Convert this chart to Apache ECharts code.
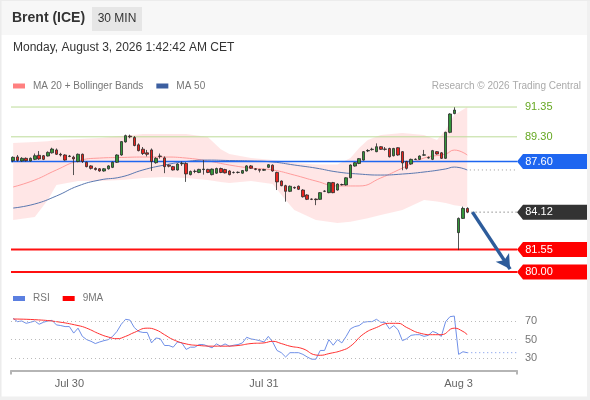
<!DOCTYPE html>
<html><head><meta charset="utf-8">
<script src="https://cdn.jsdelivr.net/npm/echarts@6/dist/echarts.min.js"></script>
<style>html,body{margin:0;padding:0;background:#fff;}#c{width:590px;height:400px;}</style>
</head><body><div id="c"></div>
<script>
const N = 117;
const dayLabels = ['Jul 30', 'Jul 31', 'Aug 3'];
const dayStarts = [13, 58, 103];

const opens = [87.66,87.92,87.64,87.82,87.64,87.75,88.03,88.00,87.98,88.20,
88.40,88.10,88.05,87.95,87.90,87.60,88.10,87.55,87.30,87.13,
87.10,86.95,87.10,87.20,87.55,88.05,88.95,89.35,89.25,88.75,
88.45,88.20,88.40,87.52,87.98,87.85,87.35,87.25,87.02,87.45,
87.47,86.70,86.92,86.85,87.05,87.06,86.70,86.80,87.12,87.05,
86.95,86.85,86.85,86.80,86.95,87.30,87.10,87.05,87.00,87.20,
87.35,86.85,86.26,85.94,85.55,85.82,85.90,85.64,85.30,85.02,
85.02,85.00,85.55,85.46,86.15,85.64,86.00,85.99,86.48,87.29,
87.47,87.70,88.33,88.42,88.28,88.62,88.46,88.50,88.00,88.55,
88.28,87.60,87.43,87.74,87.75,88.04,87.85,87.75,88.28,88.20,
87.82,89.61,90.90,82.71,83.69,84.38];
const closes = [87.89,87.68,87.82,87.66,87.82,88.00,87.78,87.75,88.23,88.46,
88.10,88.05,87.70,87.98,87.78,88.10,87.60,87.25,87.13,87.05,
86.95,87.10,87.30,87.55,88.05,88.97,89.38,89.30,88.70,88.35,
88.15,88.10,87.60,87.82,87.95,87.25,87.28,87.02,87.43,87.48,
86.75,86.92,86.93,87.06,87.08,86.85,87.08,87.12,86.85,86.82,
86.70,86.84,86.86,86.98,87.30,87.14,87.06,87.00,87.05,87.38,
86.95,86.20,85.94,85.55,85.90,85.78,85.69,85.18,85.00,85.00,
84.98,85.46,85.57,86.15,85.46,86.05,86.02,86.48,87.36,87.52,
87.80,88.28,88.36,88.45,88.62,88.44,88.44,87.93,88.50,88.05,
87.50,87.13,87.75,87.76,87.98,88.06,87.87,88.35,88.12,87.82,
89.61,90.87,91.14,83.69,84.38,84.12];
const lows = [87.55,87.60,87.58,87.60,87.60,87.70,87.72,87.70,87.95,88.15,
88.05,87.95,87.65,87.90,86.67,87.55,87.50,87.20,87.05,86.98,
86.90,86.90,87.05,87.15,87.50,88.00,88.90,89.20,88.65,88.30,
88.05,87.95,86.95,87.45,87.80,86.80,87.20,86.98,86.98,87.30,
86.20,86.65,86.80,86.80,86.70,86.80,86.65,86.75,86.80,86.78,
86.65,86.78,86.78,86.76,86.92,87.10,87.00,86.85,86.95,87.15,
86.90,85.64,85.90,84.84,85.50,85.72,85.64,85.12,84.95,84.95,
84.60,84.96,85.50,85.42,85.42,85.60,85.95,85.95,86.45,87.25,
87.42,87.66,88.25,88.35,88.24,88.40,88.35,87.88,87.95,88.00,
87.00,87.05,87.38,87.70,87.70,88.00,87.80,87.70,88.08,87.78,
87.78,89.55,90.85,81.51,83.65,84.05];
const highs = [87.95,88.05,87.90,87.88,87.88,88.15,88.32,88.05,88.30,88.55,
88.50,88.20,88.10,88.05,88.00,88.15,88.15,87.60,87.35,87.20,
87.15,87.15,87.35,87.60,88.10,89.00,89.45,89.45,89.35,88.85,
88.60,88.40,88.50,87.90,88.15,87.95,87.40,87.30,87.48,87.60,
87.55,86.98,87.05,87.10,87.70,87.10,87.12,87.18,87.18,87.10,
87.00,86.92,86.92,87.02,87.35,87.36,87.15,87.10,87.10,87.42,
87.40,86.90,86.30,86.00,85.95,85.88,85.95,85.70,85.35,85.06,
85.06,85.50,85.62,86.20,86.20,86.10,86.08,86.52,87.40,87.56,
87.84,88.32,88.45,88.55,88.85,88.66,88.60,88.55,88.54,88.58,
88.32,87.65,87.80,87.82,88.02,88.40,87.95,88.40,88.32,88.25,
89.65,90.92,91.33,83.75,84.50,84.45];

const bandIdx   = [0,5,8,10,15,20,25,30,35,40,45,48,50,55,60,63,65,70,75,78,80,82,85,90,95,98,100,102,105];
const bandUpper = [88.87,88.94,89.00,89.08,89.15,89.22,89.36,89.49,89.49,89.49,89.29,88.45,88.12,87.84,87.70,87.60,87.50,87.40,87.40,87.84,88.53,89.08,89.43,89.56,89.43,89.08,89.77,90.80,91.35];
const bandLower = [83.58,83.78,84.95,85.99,86.26,86.26,86.33,86.47,86.54,86.47,86.33,86.20,86.12,86.26,86.05,84.95,84.27,83.58,83.37,83.45,83.58,83.70,83.92,84.27,84.95,84.85,84.75,84.60,84.47];

const maIdx = [0,5,10,15,20,25,30,35,40,45,50,55,60,65,70,75,80,85,90,95,100,102,105];
const ma20  = [85.85,86.33,87.02,87.64,87.84,87.88,87.91,87.91,87.84,87.64,87.36,87.15,87.02,86.67,86.26,85.92,85.92,86.47,87.15,87.84,88.12,88.39,88.05];
const ma50  = [84.40,84.68,85.23,85.92,86.33,86.54,87.02,87.36,87.60,87.70,87.67,87.64,87.57,87.36,87.15,86.88,86.74,86.67,86.74,86.88,87.09,87.22,87.02];

const rsi = [72.8,69.3,70,67.5,68.6,70,66.5,68.6,70,70.7,
65.8,65.1,64,64,57,62.3,53.5,50,48.2,45.8,
47.5,48.9,50,53.5,58.8,66.5,71.8,71,63,58.8,
57.7,57.7,46.5,51.8,51,43.7,43.7,41.9,47.5,46.5,
39.5,41.9,41.9,44.7,44.7,43,41.2,45.4,43,45.4,
43,44,44.7,46.5,52.5,50.7,50,48.9,47.5,53.5,
47.5,38.4,36,31.4,36,36,36,34.2,31.4,29,
29,38.4,38.4,50,44,50,46.5,53.5,61.6,64,
65.1,68.6,69.3,69.3,71.8,68.6,68.6,61.6,65.1,60.5,
48.9,51,54.6,55.3,55.3,53.5,54.6,58.8,57,53.5,
69.3,74.6,75.3,34.2,37,36];
const rsiMaIdx = [0,5,10,15,17,20,22,24,26,28,31,33,35,37,40,43,46,49,52,55,58,60,62,64,67,70,71,73,76,78,81,84,87,89,91,94,97,99,102,104,105];
const rsiMa    = [72.1,71.4,69.3,65.1,62.3,56,52.8,51,53.5,57.7,62.3,60.5,55.3,50,45.4,43.7,43,43,43.7,45.8,46.5,48.2,45.8,43,40.2,33.5,33.2,35,38.4,43,56,63,67.5,67.5,63,57,55.3,55.3,62.3,58.8,55.3];

const resistLevels = [91.35, 89.30];
const pivotLevel = 87.60;
const lastPrice = 84.12;
const supportLevels = [81.55, 80.00];
const targetLevel = 80.00;
const rsiLevels = [70, 50, 30];

const cats = Array.from({length: N}, (_, i) => String(i));
const lastIdx = closes.length - 1;
const rightEdge = N - 0.5;
const FONT = 'Liberation Sans, Arial, sans-serif';

const candleData = opens.map((o, i) => [o, closes[i], lows[i], highs[i]]);
const pair = (xs, ys) => xs.map((x, k) => [x, ys[k]]);

const pentagon = 'path://M0,7.5L6,0L70,0L70,15L6,15Z';
function boxPoint(v, color) {
  return {
    coord: [rightEdge, v], symbol: pentagon, symbolSize: [70, 15], symbolOffset: [35, 0],
    itemStyle: { color: color },
    label: { show: true, position: 'inside', offset: [-13, 0], color: '#fff', fontSize: 11, fontFamily: FONT, formatter: v.toFixed(2) }
  };
}
function textPoint(v, color) {
  return {
    coord: [rightEdge, v], symbol: 'circle', symbolSize: 0.01,
    label: { show: true, position: 'right', distance: 8, color: color, fontSize: 11, fontFamily: FONT, formatter: v.toFixed(2) }
  };
}
const greenLine = { color: '#bcdb98', width: 1, type: 'solid', opacity: 1 };
const redLine = { color: '#ff1010', width: 2, type: 'solid', opacity: 1 };

const chart = echarts.init(document.getElementById('c'), null, { renderer: 'canvas' });
chart.setOption({
  animation: false,
  backgroundColor: '#ffffff',
  textStyle: { fontFamily: FONT },
  graphic: [
    { type: 'rect', shape: { x: 0, y: 0, width: 590, height: 35 }, style: { fill: '#f7f7f7' }, z: -10 },
    { type: 'rect', shape: { x: 0, y: 0, width: 1.5, height: 400 }, style: { fill: '#ececec' }, z: 100 },
    { type: 'rect', shape: { x: 587, y: 0, width: 3, height: 400 }, style: { fill: '#f0f0f0' }, z: 100 },
    { type: 'rect', shape: { x: 0, y: 396.5, width: 590, height: 3.5 }, style: { fill: '#f0f0f0' }, z: 100 },
    { type: 'rect', shape: { x: 0, y: 0, width: 590, height: 1 }, style: { fill: '#ececec' }, z: 100 },
    { type: 'text', left: 12, top: 11, style: { text: 'Brent (ICE)', font: 'bold 14px ' + FONT, fill: '#333' } },
    { type: 'rect', shape: { x: 92, y: 7, width: 50, height: 24 }, style: { fill: '#e6e6e6' } },
    { type: 'text', x: 117, y: 19, style: { text: '30 MIN', font: '12px ' + FONT, fill: '#333', align: 'center', verticalAlign: 'middle' } },
    { type: 'text', x: 13, y: 47.5, style: { text: 'Monday, August 3, 2026 1:42:42 AM CET', font: '12px ' + FONT, fill: '#333', verticalAlign: 'middle' } },
    { type: 'text', x: 581, y: 86, style: { text: 'Research \u00a9 2026 Trading Central', font: '10px ' + FONT, fill: '#aaa', align: 'right', verticalAlign: 'middle' } }
  ],
  legend: [
    { left: 13, top: 81, padding: 0, icon: 'rect', itemWidth: 12, itemHeight: 5, itemGap: 13, selectedMode: false,
      textStyle: { fontSize: 10, color: '#777', padding: [0, 0, 0, 3], fontFamily: FONT },
      data: [{ name: 'MA 20 + Bollinger Bands', itemStyle: { color: '#ff8080' } }, { name: 'MA 50', itemStyle: { color: '#3c5fa0' } }] },
    { left: 13, top: 293.5, padding: 0, icon: 'rect', itemWidth: 12, itemHeight: 5, itemGap: 13, selectedMode: false,
      textStyle: { fontSize: 10, color: '#777', padding: [0, 0, 0, 3], fontFamily: FONT },
      data: [{ name: 'RSI', itemStyle: { color: '#5b7fe0' } }, { name: '9MA', itemStyle: { color: '#ff0000' } }] }
  ],
  grid: [
    { left: 11, right: 73, top: 90.3, height: 189 },
    { left: 11, right: 73, top: 307, height: 63.4 }
  ],
  xAxis: [
    { type: 'category', gridIndex: 0, data: cats, boundaryGap: true, show: false },
    { type: 'value', gridIndex: 0, min: -0.5, max: rightEdge, show: false },
    { type: 'category', gridIndex: 1, data: cats, boundaryGap: true,
      axisLine: { lineStyle: { color: '#b5b5b5', width: 2 } },
      axisTick: { show: true, length: 4, interval: (i) => i === 0, lineStyle: { color: '#b5b5b5', width: 2 } },
      axisLabel: { color: '#666', fontSize: 11, fontFamily: FONT, margin: 8,
        interval: (i) => dayStarts.indexOf(i) >= 0,
        formatter: (v, i) => { const k = dayStarts.indexOf(Number(v)); return k >= 0 ? dayLabels[k] : ''; } },
      splitLine: { show: false } },
    { type: 'value', gridIndex: 1, min: -0.5, max: rightEdge, show: false }
  ],
  yAxis: [
    { type: 'value', gridIndex: 0, min: 79.5, max: 92.5, show: false },
    { type: 'value', gridIndex: 1, min: 17, max: 85, show: false }
  ],
  series: [
    { type: 'custom', name: 'band', xAxisIndex: 1, yAxisIndex: 0, data: [[0, 85]], z: 1, silent: true,
      renderItem: function (params, api) {
        const up = bandIdx.map((x, k) => api.coord([x, bandUpper[k]]));
        const lo = bandIdx.map((x, k) => api.coord([x, bandLower[k]])).reverse();
        return { type: 'polygon', shape: { points: up.concat(lo) }, style: { fill: 'rgba(255,140,140,0.22)' } };
      } },
    { type: 'line', name: 'MA 20 + Bollinger Bands', xAxisIndex: 1, yAxisIndex: 0, data: pair(maIdx, ma20), smooth: true,
      symbol: 'none', lineStyle: { color: '#ff9c9c', width: 1 }, itemStyle: { color: '#ff8080' }, z: 2 },
    { type: 'line', name: 'MA 50', xAxisIndex: 1, yAxisIndex: 0, data: pair(maIdx, ma50), smooth: true,
      symbol: 'none', lineStyle: { color: '#5a78b0', width: 1 }, itemStyle: { color: '#3c5fa0' }, z: 2,
      markPoint: { silent: true, data: [
        textPoint(resistLevels[0], '#66a822'), textPoint(resistLevels[1], '#66a822'),
        boxPoint(pivotLevel, '#1e66f0'), boxPoint(lastPrice, '#333333'),
        boxPoint(supportLevels[0], '#ff0000'), boxPoint(supportLevels[1], '#ff0000')
      ] } },
    { type: 'line', name: 'ma50ext', xAxisIndex: 1, yAxisIndex: 0, data: [[lastIdx + 0.6, ma50[ma50.length - 1]], [rightEdge, ma50[ma50.length - 1]]],
      symbol: 'none', lineStyle: { color: '#999', width: 1, type: [1, 3] }, z: 2 },
    { type: 'line', name: 'res1', xAxisIndex: 1, yAxisIndex: 0, data: [[-0.5, resistLevels[0]], [rightEdge, resistLevels[0]]],
      symbol: 'none', lineStyle: greenLine, z: 3 },
    { type: 'line', name: 'res2', xAxisIndex: 1, yAxisIndex: 0, data: [[-0.5, resistLevels[1]], [rightEdge, resistLevels[1]]],
      symbol: 'none', lineStyle: greenLine, z: 3 },
    { type: 'line', name: 'sup1', xAxisIndex: 1, yAxisIndex: 0, data: [[-0.5, supportLevels[0]], [rightEdge, supportLevels[0]]],
      symbol: 'none', lineStyle: redLine, z: 3 },
    { type: 'line', name: 'sup2', xAxisIndex: 1, yAxisIndex: 0, data: [[-0.5, supportLevels[1]], [rightEdge, supportLevels[1]]],
      symbol: 'none', lineStyle: redLine, z: 3 },
    { type: 'line', name: 'pivot', xAxisIndex: 1, yAxisIndex: 0, data: [[-0.5, pivotLevel], [rightEdge, pivotLevel]],
      symbol: 'none', lineStyle: { color: '#1e66f0', width: 1.5 }, z: 3 },
    { type: 'candlestick', name: 'Brent', xAxisIndex: 0, yAxisIndex: 0, data: candleData, barWidth: 3, z: 4,
      itemStyle: { color: '#34963a', color0: '#e8231e', borderColor: '#2a2a2a', borderColor0: '#2a2a2a', borderWidth: 0.8 } },
    { type: 'line', name: 'last', xAxisIndex: 1, yAxisIndex: 0, data: [[lastIdx + 1, lastPrice], [rightEdge, lastPrice]],
      symbol: 'none', lineStyle: { color: '#555', width: 1, type: [1, 3] }, z: 3,
      markLine: { silent: true, symbol: ['none', 'arrow'], symbolSize: [12, 14], label: { show: false },
        lineStyle: { color: '#2d5c9b', width: 3.5, type: 'solid' },
        data: [[{ coord: [lastIdx + 1.2, lastPrice] }, { coord: [rightEdge - 1.6, targetLevel + 0.2] }]] } },
    { type: 'line', name: 'RSI', xAxisIndex: 2, yAxisIndex: 1, data: rsi, symbol: 'none',
      lineStyle: { color: '#7090e8', width: 1 }, itemStyle: { color: '#5b7fe0' }, z: 3,
      markLine: { silent: true, symbol: 'none',
        lineStyle: { color: '#bbb', width: 1, type: [1, 3] },
        label: { show: true, position: 'end', distance: 8, color: '#777', fontSize: 11, fontFamily: FONT },
        data: rsiLevels.map(v => ({ yAxis: v })) } },
    { type: 'line', name: 'rsiext', xAxisIndex: 3, yAxisIndex: 1, data: [[lastIdx, rsi[lastIdx]], [rightEdge, rsi[lastIdx]]],
      symbol: 'none', lineStyle: { color: '#7090e8', width: 1, type: [1, 3] }, z: 3 },
    { type: 'line', name: '9MA', xAxisIndex: 3, yAxisIndex: 1, data: pair(rsiMaIdx, rsiMa), smooth: true, symbol: 'none',
      lineStyle: { color: '#ff3030', width: 1 }, itemStyle: { color: '#ff0000' }, z: 3 }
  ]
});
</script></body></html>
